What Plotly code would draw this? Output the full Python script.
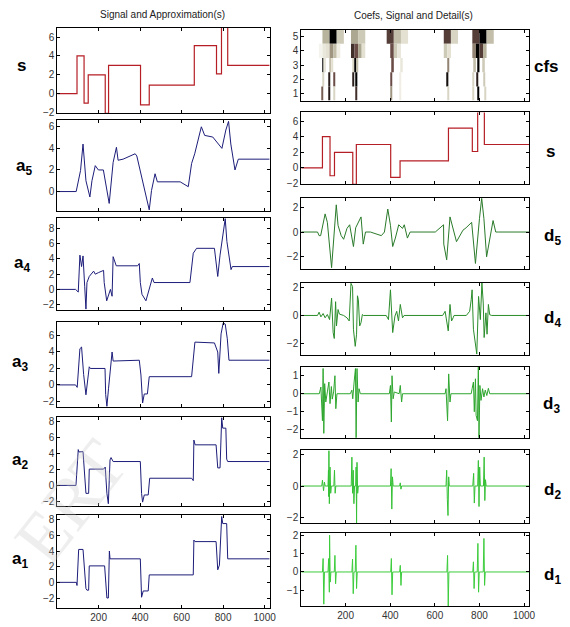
import plotly.graph_objects as go

W, H = 570, 627

# ---------------- data ----------------
s_breaks = [1, 96, 130, 150, 232, 248, 402, 444, 661, 768, 792, 822, 1024]
s_levels = [0, 4, -1, 2, -2.1, 3, -1.2, 0.9, 5.1, 2.1, 7.2, 3]

a5_x = [1, 92, 113, 125, 139, 158, 168, 184, 199, 223, 251, 270, 286, 294, 318, 376, 384, 444, 455, 472,
        483, 593, 632, 648, 663, 671, 695, 711, 750, 794, 813, 826, 837, 857, 873, 1024]
a5_y = [0, 0, 1.95, 4.4, 1.0, -0.5, 1.0, 2.4, 2.0, 2.0, -1.1, 2.7, 4.1, 2.9, 3.0, 3.5, 3.3, -1.7, 0.1, 1.65,
        0.9, 0.9, 0.45, 2.6, 3.5, 4.1, 6.0, 5.2, 5.05, 4.0, 5.7, 6.5, 4.4, 2.0, 3.0, 3.0]

a4_x = [1, 89, 102, 110, 118, 125, 133, 139, 144, 155, 176, 184, 199, 224, 227, 239, 257, 265, 270, 285,
        388, 396, 401, 409, 428, 444, 459, 467, 640, 656, 672, 758, 774, 785, 802, 810, 818, 838, 844, 1024]
a4_y = [0, 0, -0.35, 4.5, 3.0, 4.4, 0.4, -2.6, 0.9, 1.7, 2.4, 2.0, 2.2, 2.5, 0.9, -1.5, 0.0, -0.9, 4.3, 3.1,
        3.1, 3.4, 0.9, -0.65, -1.5, 0.0, 1.5, 0.9, 0.9, 4.75, 5.4, 5.4, 1.7, 4.5, 7.8, 9.3, 6.3, 2.6, 3.0, 3.0]

a3_x = [1, 89, 97, 110, 118, 128, 139, 148, 155, 160, 231, 234, 240, 248, 259, 265, 270, 396, 404, 412,
        420, 435, 444, 455, 648, 664, 758, 774, 779, 790, 800, 810, 820, 828, 1024]
a3_y = [0, 0, -0.3, 4.4, 4.6, 1.25, -1.2, 1.2, 2.2, 2.0, 2.0, -1.15, -2.6, -0.4, 3.2, 4.0, 2.9, 3.0, 1.2, -2.2,
        -1.1, -1.1, 1.0, 1.0, 1.0, 5.2, 5.1, 4.0, 1.4, 6.2, 7.5, 7.4, 5.6, 3.0, 3.0]

a2_x = [1, 91, 102, 105, 125, 133, 139, 152, 155, 224, 232, 240, 247, 255, 260, 270, 401, 407, 412, 420,
        439, 446, 648, 656, 659, 665, 766, 774, 785, 793, 798, 813, 817, 822, 1024]
a2_y = [0, 0, 4.5, 4.2, 4.25, 1.1, -1.0, -1.0, 2.05, 2.05, 2.3, -1.0, -2.3, 3.2, 3.5, 3.0, 3.0, -1.0, -2.1, -1.2,
        -1.2, 0.9, 0.9, 0.6, 5.7, 5.1, 5.1, 2.2, 2.2, 8.5, 7.2, 7.2, 3.3, 3.0, 3.0]

a1_x = [1, 93, 96, 104, 125, 139, 144, 152, 155, 229, 240, 247, 252, 255, 401, 407, 415, 439, 444, 656,
        659, 664, 766, 774, 782, 793, 798, 817, 822, 1024]
a1_y = [0, 0, -0.4, 4.2, 4.2, -0.8, -1.0, -1.0, 2.1, 2.1, -2.0, -2.0, 4.0, 3.0, 3.0, -1.9, -1.1, -1.1, 0.95, 0.95,
        5.4, 5.2, 5.2, 1.6, 2.2, 8.4, 7.5, 7.5, 3.0, 3.0]

d5_x = [1, 74, 81, 88, 108, 118, 137, 144, 158, 166, 180, 191, 206, 218, 235, 245, 253, 269, 279, 289,
        311, 360, 374, 389, 401, 411, 423, 438, 455, 463, 477, 489, 602, 624, 639, 640, 653, 668, 682, 697,
        726, 740, 765, 782, 800, 810, 820, 832, 861, 873, 885, 1024]
d5_y = [0, 0, -0.3, -0.3, 1.5, 0.8, -2.95, -1.1, 2.25, 0.55, -0.3, -0.6, 0.3, 0.6, -1.2, 0.35, 0.7, 1.25, -1.0, 0,
        0, -0.3, 0, 1.9, 0.55, -1.2, -0.5, 0.6, 0.3, 0.6, -0.5, 0, 0, 0.4, 0.6, -1.0, -2.3, 1.25, 0.3, -0.8,
        0.15, 0.35, 0.8, -2.6, 1.1, 2.8, 1.1, -2.05, 0.95, 0, 0, 0]

d4_x = [1, 74, 81, 89, 99, 108, 118, 128, 137, 144, 149, 155, 159, 166, 172, 191, 206, 216, 224, 231,
        235, 243, 249, 253, 257, 263, 269, 275, 280, 382, 392, 401, 411, 421, 429, 437, 445, 455, 462, 635,
        646, 653, 660, 668, 675, 682, 686, 741, 756, 763, 767, 773, 782, 788, 796, 804, 811, 817, 821, 829,
        834, 840, 846, 855, 1024]
d4_y = [0, 0, 0.24, -0.1, 0.14, -0.17, 0.07, -0.3, 1.26, -1.24, -1.67, 1.0, -0.76, 0.43, 0.1, 0, -0.17, -0.4, 2.33, 2.1,
        -1.0, -2.24, -1.36, 1.43, 1.14, -0.76, -0.52, 0.07, 0, 0, -0.3, 1.86, -1.24, -0.05, 0.3, -0.4, 0.8, -0.17, 0, 0,
        0.3, -0.3, -1.12, 0.8, -0.4, -0.17, 0, 0, 0.3, 1.14, 1.86, -1.0, -2.2, -2.8, 1.38, -0.3, 2.36, 0.9, -1.6, 0.19,
        -1.36, 0.8, 0.05, 0, 0]

d3_x = [1, 82, 89, 93, 96, 99, 102, 106, 111, 118, 125, 130, 136, 140, 146, 152, 156, 161, 221, 228,
        232, 238, 244, 247, 251, 256, 260, 266, 396, 401, 405, 408, 413, 418, 440, 445, 451, 455, 646, 650,
        654, 657, 662, 668, 672, 763, 767, 773, 777, 782, 785, 791, 795, 798, 802, 807, 814, 820, 826, 833,
        840, 846, 1024]
d3_y = [0, 0, 0.37, -1.0, -1.5, 1.4, -2.2, 0.56, -0.46, 0.1, 0.65, -0.55, 0.4, -0.3, 0.1, 1.0, -0.83, 0, 0, 0.2,
        -0.28, 0.65, 1.4, -2.45, 1.4, -0.46, 0.28, 0, 0, 0.46, -1.57, 1.0, -0.28, 0.1, 0, 0.46, -0.46, 0, 0, 0.28,
        -1.0, -1.5, 1.1, -0.46, 0, 0, 0.28, 0.65, -1.0, 0.83, -1.2, -1.5, 1.57, -2.45, 0.46, -0.37, 0.28, -0.18, 0.2, -0.1,
        0.3, 0, 0]

d2_x = [1, 93, 96, 101, 105, 108, 121, 123, 124, 125, 127, 130, 133, 136, 147, 150, 153, 156, 225, 228,
        231, 234, 237, 240, 245, 247, 249, 251, 254, 257, 401, 404, 407, 410, 413, 442, 445, 448, 451, 650,
        653, 656, 659, 662, 665, 770, 774, 777, 780, 792, 795, 798, 801, 804, 818, 821, 824, 827, 830, 1024]
d2_y = [0, 0, 0.37, -0.3, 0.25, 0, 0, 1.0, -0.67, 2.25, -1.12, 1.2, -0.46, 0, 0, 1.0, -0.46, 0, 0, 1.83,
        -0.46, 1.0, -1.12, 0, 0, 1.2, -2.35, 1.5, -0.46, 0, 0, 1.1, -1.46, 0.58, 0, 0, 0.2, -0.2, 0, 0,
        1.0, -0.87, -1.87, 0.58, 0, 0, 0.8, -1.08, 0, 0, 1.62, -1.3, 1.2, 0, 0, 1.83, -0.92, 0.4, 0, 0]

d1_x = [1, 96, 99, 102, 105, 121, 124, 127, 128, 131, 134, 149, 152, 155, 158, 228, 231, 234, 237, 243,
        246, 249, 252, 402, 405, 408, 411, 442, 445, 448, 451, 654, 657, 660, 663, 770, 773, 776, 779, 790,
        793, 796, 799, 817, 820, 823, 826, 1024]
d1_y = [0, 0, 0.73, -1.75, 0, 0, 0.73, -1.1, 2.0, -0.55, 0, 0, 0.9, -0.64, 0, 0, 0.7, -1.18, 0, 0,
        1.45, -0.9, 0, 0, 0.73, -1.24, 0, 0, 0.36, -0.73, 0, 0, 0.9, -1.85, 0, 0, 0.55, -0.9, 0, 0,
        1.55, -1.1, 0, 0, 1.82, -0.73, 0, 0]

# coefficient map: block start positions and magnitude (0 = white, 1 = black) per level
cfs5_start = [96, 128, 160, 224, 256, 384, 416, 448, 640, 672, 768, 800, 832]
cfs5_val = [0.45, 1.0, 0.35, 0.5, 0.35, 0.8, 0.4, 0.25, 0.8, 0.3, 0.8, 1.0, 0.4]
cfs4_start = [80, 96, 112, 128, 144, 160, 224, 240, 256, 272, 400, 416, 432, 640, 656, 768, 784, 800, 816]
cfs4_val = [0.1, 0.2, 0.25, 0.55, 0.4, 0.15, 0.85, 0.75, 0.5, 0.25, 0.75, 0.35, 0.2, 0.35, 0.25, 0.6, 1.0, 0.8, 0.45]
cfs3_start = [96, 104, 128, 136, 232, 240, 248, 408, 448, 656, 776, 792, 816]
cfs3_val = [1.0, 0.2, 0.4, 0.25, 0.3, 1.0, 0.4, 0.75, 0.2, 0.6, 0.4, 1.0, 0.35]
cfs2_start = [96, 124, 148, 232, 248, 404, 444, 656, 772, 788, 820]
cfs2_val = [0.3, 0.9, 0.75, 0.9, 1.0, 0.75, 0.15, 0.95, 0.3, 0.9, 0.35]
cfs1_start = [96, 124, 150, 248, 404, 444, 660, 772, 794, 824]
cfs1_val = [0.7, 0.9, 0.3, 0.85, 0.55, 0.15, 0.3, 0.3, 1.0, 0.3]

x_ticks = [200, 400, 600, 800, 1000]
cfs_levels = [1, 2, 3, 4, 5]

# ---------------- layout helpers ----------------
def xd(a, b):
    return [a / W, b / W]

def yd(top, bot):
    return [1 - bot / H, 1 - top / H]

LX = (58, 273)
RX = (305, 536)

# (key, xpx, (top,bottom), yrange, yticks, show x labels)
panels = [
    ("s_l", LX, (24, 111), [-2.1, 7.0], [-2, 0, 2, 4, 6], False),
    ("a5", LX, (118, 210), [-1.8, 6.6], [0, 2, 4, 6], False),
    ("a4", LX, (217, 310), [-2.65, 9.4], [-2, 0, 2, 4, 6, 8], False),
    ("a3", LX, (323, 409), [-2.7, 7.6], [-2, 0, 2, 4, 6], False),
    ("a2", LX, (419, 509), [-2.55, 8.6], [-2, 0, 2, 4, 6, 8], False),
    ("a1", LX, (518, 613), [-3.3, 8.65], [-2, 0, 2, 4, 6, 8], True),
    ("cfs", RX, (26, 98), [0.5, 5.5], cfs_levels, False),
    ("s_r", RX, (110, 183), [-2.1, 7.1], [-2, 0, 2, 4, 6], False),
    ("d5", RX, (197, 269), [-3.07, 2.8], [-2, 0, 2], False),
    ("d4", RX, (283, 356), [-2.86, 2.36], [-2, 0, 2], False),
    ("d3", RX, (368, 440), [-2.44, 1.5], [-2, -1, 0, 1], False),
    ("d2", RX, (453, 527), [-2.37, 2.25], [-2, 0, 2], False),
    ("d1", RX, (537, 611), [-1.86, 2.1], [-1, 0, 1, 2], True),
]

fig = go.Figure()
layout = {}
axmap = {}
tickfont = dict(family="Liberation Sans Narrow, Liberation Sans, Arial", size=10, color="#333333")
for i, (key, xp, yp, yr, yt, showx) in enumerate(panels, start=1):
    sfx = "" if i == 1 else str(i)
    axmap[key] = ("x" + sfx, "y" + sfx)
    layout["xaxis" + sfx] = dict(
        domain=xd(*xp), range=[1, 1024], anchor="y" + sfx,
        tickvals=x_ticks, showticklabels=showx, ticks="inside", ticklen=3,
        tickcolor="black", showline=True, linecolor="black", linewidth=1,
        mirror="ticks", showgrid=False, zeroline=False, tickfont=tickfont,
    )
    layout["yaxis" + sfx] = dict(
        domain=yd(*yp), range=yr, anchor="x" + sfx,
        tickvals=yt, ticks="inside", ticklen=3, tickcolor="black",
        showline=True, linecolor="black", linewidth=1, mirror="ticks",
        showgrid=False, zeroline=False, tickfont=tickfont,
    )

def add_line(key, x, y, color, width=1.0, shape="linear"):
    xa, ya = axmap[key]
    fig.add_trace(go.Scatter(x=x, y=y, mode="lines", xaxis=xa, yaxis=ya,
                             line=dict(color=color, width=width, shape=shape),
                             hoverinfo="skip", showlegend=False))

s_y = s_levels + [s_levels[-1]]
RED = "#b51e24"
BLUE = "#1d1d7a"
add_line("s_l", s_breaks, s_y, RED, 1.2, "hv")
add_line("s_r", s_breaks, s_y, RED, 1.2, "hv")
add_line("a5", a5_x, a5_y, BLUE)
add_line("a4", a4_x, a4_y, BLUE)
add_line("a3", a3_x, a3_y, BLUE)
add_line("a2", a2_x, a2_y, BLUE)
add_line("a1", a1_x, a1_y, BLUE)
add_line("d5", d5_x, d5_y, "#2a7a2a")
add_line("d4", d4_x, d4_y, "#2a8c2a")
add_line("d3", d3_x, d3_y, "#2ea62e")
add_line("d2", d2_x, d2_y, "#35c035")
add_line("d1", d1_x, d1_y, "#3ccc3c")

cscale = [[0.0, "#ffffff"], [0.25, "#e4e1d2"], [0.5, "#aca790"], [0.75, "#6a4c46"], [1.0, "#000000"]]
xa, ya = axmap["cfs"]
for lev, starts, vals in [(5, cfs5_start, cfs5_val), (4, cfs4_start, cfs4_val),
                          (3, cfs3_start, cfs3_val), (2, cfs2_start, cfs2_val),
                          (1, cfs1_start, cfs1_val)]:
    bw = max(2 ** lev, 5)
    fig.add_trace(go.Bar(
        x=[st + 2 ** lev / 2 for st in starts], y=[1] * len(starts),
        base=[lev - 0.5] * len(starts), width=[bw] * len(starts),
        marker=dict(color=vals, colorscale=cscale, cmin=0, cmax=1, line=dict(width=0)),
        xaxis=xa, yaxis=ya, hoverinfo="skip", showlegend=False,
    ))

ann = []
tfont = dict(family="Liberation Sans Narrow, Liberation Sans, Arial", size=10, color="#222222")
ann.append(dict(text="Signal and Approximation(s)", x=165 / W, y=1 - 11 / H, xref="paper", yref="paper",
                showarrow=False, font=tfont, xanchor="center", yanchor="middle"))
ann.append(dict(text="Coefs, Signal and Detail(s)", x=419 / W, y=1 - 12 / H, xref="paper", yref="paper",
                showarrow=False, font=tfont, xanchor="center", yanchor="middle"))

lfont = dict(family="Liberation Sans, Arial", size=17, color="black")
labels = [
    ("<b>s</b>", 22, 62), ("<b>a<sub>5</sub></b>", 24, 165), ("<b>a<sub>4</sub></b>", 22, 264),
    ("<b>a<sub>3</sub></b>", 20, 364), ("<b>a<sub>2</sub></b>", 20, 464), ("<b>a<sub>1</sub></b>", 20, 564),
    ("<b>cfs</b>", 553, 63), ("<b>s</b>", 557, 150), ("<b>d<sub>5</sub></b>", 559, 236),
    ("<b>d<sub>4</sub></b>", 559, 320), ("<b>d<sub>3</sub></b>", 558, 407), ("<b>d<sub>2</sub></b>", 559, 494),
    ("<b>d<sub>1</sub></b>", 559, 580),
]
for t, x, y in labels:
    ann.append(dict(text=t, x=x / W, y=1 - y / H, xref="paper", yref="paper", showarrow=False,
                    font=lfont, xanchor="center", yanchor="middle"))

# faint watermark seen in the source
ann.append(dict(text="ERT", x=72 / W, y=1 - 505 / H, xref="paper", yref="paper", showarrow=False,
                textangle=-52, font=dict(family="Liberation Serif, serif", size=72, color="rgba(200,200,200,0.3)"),
                xanchor="center", yanchor="middle"))

fig.update_layout(
    width=W, height=H, margin=dict(l=0, r=0, t=0, b=0),
    paper_bgcolor="white", plot_bgcolor="white", barmode="overlay",
    annotations=ann, showlegend=False, **layout,
)

fig.write_html("out.html")
